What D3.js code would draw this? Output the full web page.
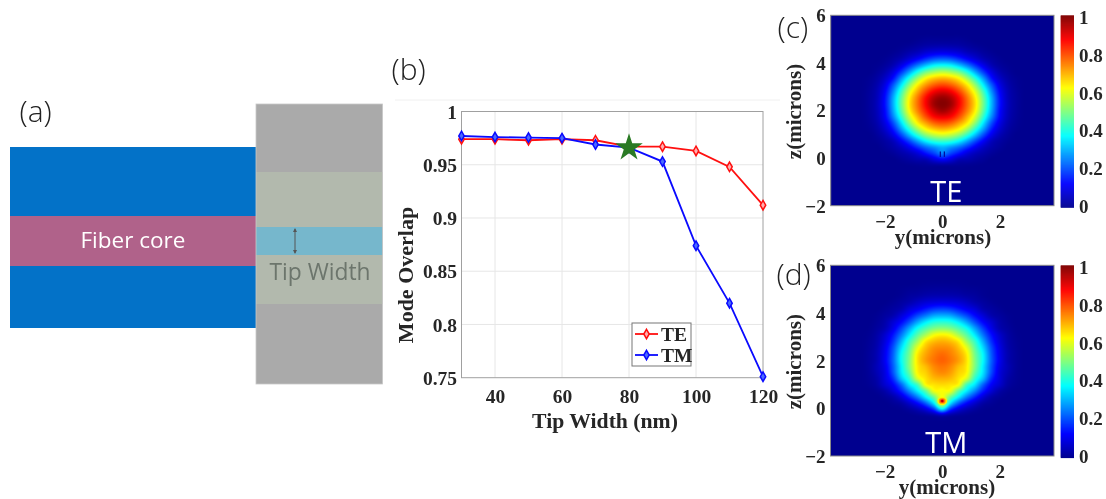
<!DOCTYPE html>
<html><head><meta charset="utf-8">
<script src="https://cdnjs.cloudflare.com/ajax/libs/d3/7.8.5/d3.min.js"></script>
<style>
html,body{margin:0;padding:0;background:#fff;overflow:hidden}
svg{display:block;filter:blur(.55px)}
.sf{font-family:"Liberation Serif",serif;font-weight:700;fill:#262626}
.os{font-family:"Open Sans",sans-serif}
</style></head><body>
<svg id="c" width="1106" height="499"></svg>
<script>
const tipWidths=[30,40,50,60,70,80,90,100,110,120];
const overlapTE=[.974,.974,.973,.974,.973,.967,.967,.963,.948,.912];
const overlapTM=[.977,.976,.9755,.975,.969,.966,.953,.874,.82,.751];
const bestPoint=[80,.966];
const xTicksB=[40,60,80,100,120];
const yTicksB=[.75,.8,.85,.9,.95,1];
const yTickLabelsB=["0.75","0.8","0.85","0.9","0.95","1"];
const heatTicksY=[-2,0,2];
const heatTicksZ=[-2,0,2,4,6];
const barTicks=[0,.2,.4,.6,.8,1];
const barTickLabels=["0","0.2","0.4","0.6","0.8","1"];
const jetStops=[0,.125,.375,.625,.875,1];
const jetColors=["#00008f","#0000ff","#00ffff","#ffff00","#ff0000","#800000"];
// half-field grids: row index maps to z through gridRowZ, column index to |y| through gridColY
const gridRowIdx=[0,12,21], gridRowZ=[5.25,2,-.3];
const gridColIdx=[0,10], gridColY=[0,2.85];
const fieldTE=[
[0,0,0,0],
[.01,.01,.01,.005],
[.037,.035,.03,.02,.01,.004],
[.104,.097,.082,.054,.036,.017,.006],
[.223,.21,.172,.125,.082,.043,.02,.006],
[.386,.372,.32,.25,.172,.10,.043,.016,.004],
[.555,.534,.487,.40,.287,.178,.09,.036,.012],
[.698,.68,.63,.534,.41,.274,.14,.064,.023,.006],
[.805,.783,.727,.64,.514,.358,.21,.095,.034,.009],
[.905,.88,.81,.71,.59,.43,.26,.12,.043,.013],
[.977,.95,.87,.76,.636,.47,.294,.136,.047,.015],
[.995,.97,.88,.77,.65,.48,.30,.14,.05,.015],
[.967,.93,.85,.75,.63,.46,.287,.13,.047,.014],
[.89,.87,.80,.70,.58,.415,.255,.12,.043,.012],
[.80,.78,.72,.64,.51,.35,.20,.095,.034,.009],
[.70,.68,.63,.54,.415,.28,.15,.07,.024,.005],
[.58,.56,.51,.42,.31,.195,.10,.043,.014],
[.43,.415,.365,.285,.195,.115,.05,.022,.006],
[.30,.27,.23,.172,.11,.06,.03,.012],
[.25,.19,.14,.085,.05,.03,.012,.002],
[.12,.09,.045,.036,.022,.01],
[.01,.01,.008,.005,.002],
[0,0,0]];
const fieldTM=[
[.005,.005,.004,.002],
[.018,.017,.015,.01,.008,.003],
[.04,.04,.035,.025,.018,.007,.001],
[.095,.09,.08,.06,.036,.02,.008,.001],
[.185,.175,.145,.11,.08,.037,.02,.008],
[.295,.285,.24,.19,.13,.08,.035,.018,.005],
[.41,.40,.355,.285,.20,.125,.075,.03,.01],
[.51,.495,.45,.385,.285,.185,.10,.04,.016,.002],
[.63,.61,.54,.46,.355,.24,.14,.07,.025,.005],
[.70,.685,.64,.53,.425,.295,.17,.085,.03,.008],
[.74,.73,.685,.60,.465,.34,.20,.10,.035,.01],
[.77,.75,.71,.64,.49,.37,.215,.107,.04,.012],
[.78,.76,.72,.65,.50,.375,.22,.11,.04,.012],
[.76,.74,.69,.64,.50,.36,.21,.10,.045,.012],
[.74,.72,.67,.63,.47,.35,.20,.09,.04,.01],
[.70,.69,.65,.58,.42,.31,.165,.085,.03,.008],
[.66,.65,.62,.44,.35,.22,.12,.07,.022,.005],
[.62,.61,.47,.36,.26,.155,.08,.03,.008],
[.62,.48,.365,.25,.16,.08,.03,.01],
[.60,.36,.22,.13,.07,.026,.01],
[.35,.18,.09,.045,.02,.005],
[.05,.025,.012,.005],
[0,0,0]];
// small-scale features of the fields
const notchY=[-.07,.07], notchZ=[.05,.28];
const tipCenterZ=.31;
const tipRadii=[.17,.12,.085,.05,.03];
const tipValues=[.64,.72,.8,.9,.98];

const svg=d3.select("#c");
const jet=d3.scaleLinear().domain(jetStops).range(jetColors).interpolate(d3.interpolateRgb).clamp(true);
const rowOf=d3.scaleLinear().domain(gridRowZ).range(gridRowIdx);
const colOf=d3.scaleLinear().domain(gridColY).range(gridColIdx);
const rect=(x,y,w,h,f)=>svg.append("rect").attr("x",x).attr("y",y).attr("width",w).attr("height",h).attr("fill",f);
const text=(x,y,s,cls,size,fill,anchor="start")=>{const t=svg.append("text").attr("x",x).attr("y",y).attr("class",cls).attr("font-size",size).attr("text-anchor",anchor).text(s);if(fill)t.style("fill",fill);return t;};

// ---- panel (a)
rect(10,147,246,181,"#0372c8");
rect(10,216,246,50,"#b0628a");
rect(256,104,126.5,280,"#aaaaaa");
rect(256,172,126.5,132,"#b2b9ad");
rect(256,227,126.5,28,"#76b7cc");
svg.append("rect").attr("x",256).attr("y",104).attr("width",126.5).attr("height",280).attr("fill","none").attr("stroke","#c8c8c8").attr("stroke-width",.8);
text(80.5,248,"Fiber core","os",22.5,"#fff");
text(269.5,280,"Tip Width","os",22.8,"#6c756c");
svg.append("line").attr("x1",295).attr("x2",295).attr("y1",229).attr("y2",253).attr("stroke","#555").attr("stroke-width",1);
svg.append("path").attr("d","M295 228l-2 4h4zM295 254l-2 -4h4z").attr("fill","#555");
text(19.5,122,"(a)","os",30,"#222").attr("font-weight",300);
text(391.5,80,"(b)","os",30,"#222").attr("font-weight",300);
text(777.5,38,"(c)","os",30,"#222").attr("font-weight",300);
text(776.5,285,"(d)","os",30,"#222").attr("font-weight",300);

// ---- panel (b)
svg.append("line").attr("x1",395).attr("x2",780).attr("y1",100).attr("y2",100).attr("stroke","#f0f0f0");
const bx=d3.scaleLinear().domain([30,120]).range([461.5,763]);
const by=d3.scaleLinear().domain([.75,1]).range([377.7,111.5]);
const gx=svg.append("g").attr("transform","translate(0,377.7)")
  .call(d3.axisBottom(bx).tickValues(xTicksB).tickSize(0).tickPadding(11));
const gy=svg.append("g").attr("transform","translate(461.5,0)")
  .call(d3.axisLeft(by).tickValues(yTicksB).tickFormat((d,i)=>yTickLabelsB[i]).tickSize(0).tickPadding(4.5));
[gx,gy].forEach(g=>{g.select(".domain").remove();g.selectAll("text").attr("class","sf").attr("font-size",19.5).attr("font-family",null);});
gy.selectAll("text").attr("dy","0.34em");
svg.append("g").selectAll("line").data(xTicksB.slice(0,-1)).join("line")
  .attr("x1",d=>bx(d)).attr("x2",d=>bx(d)).attr("y1",111.5).attr("y2",377.7).attr("stroke","#e6e6e6");
svg.append("g").selectAll("line").data(yTicksB.slice(1,-1)).join("line")
  .attr("y1",d=>by(d)).attr("y2",d=>by(d)).attr("x1",461.5).attr("x2",763).attr("stroke","#e6e6e6");
svg.append("rect").attr("x",461.5).attr("y",111.5).attr("width",301.5).attr("height",266.2).attr("fill","none").attr("stroke","#a0a0a0").attr("stroke-width",1);
text(605,428,"Tip Width (nm)","sf",21.7,null,"middle");
text(0,0,"Mode Overlap","sf",22,null,"middle").attr("transform","translate(413,275) rotate(-90)");
const line=d3.line().x((d,i)=>bx(tipWidths[i])).y(d=>by(d));
const series=[[overlapTE,"#ff1010","#ffb0b0"],[overlapTM,"#0a0aff","#4a6aff"]];
const diamond=d3.symbol().type(d3.symbolDiamond).size(26);
series.forEach(([vals,col,fill])=>{
  svg.append("path").attr("d",line(vals)).attr("fill","none").attr("stroke",col).attr("stroke-width",1.8);
  svg.append("g").selectAll("path").data(vals).join("path").attr("d",diamond)
    .attr("transform",(d,i)=>`translate(${bx(tipWidths[i])},${by(d)})`)
    .attr("fill",fill).attr("stroke",col).attr("stroke-width",1.5);
});
const starPts=d3.range(10).map(i=>{const r=i%2?5.5:14.5,a=i*Math.PI/5;return [r*Math.sin(a),-r*Math.cos(a)];});
svg.append("path").attr("d",d3.line()(starPts)+"Z").attr("fill","#2a7a24")
  .attr("transform",`translate(${bx(bestPoint[0])},${by(bestPoint[1])})`);
svg.append("rect").attr("x",632).attr("y",323).attr("width",59).attr("height",43).attr("fill","#fff").attr("stroke","#777").attr("stroke-width",1);
[["TE",series[0],334],["TM",series[1],355]].forEach(([n,s,y])=>{
  svg.append("line").attr("x1",635).attr("x2",658).attr("y1",y).attr("y2",y).attr("stroke",s[1]).attr("stroke-width",1.8);
  svg.append("path").attr("d",diamond).attr("transform",`translate(646.5,${y})`).attr("fill",s[2]).attr("stroke",s[1]).attr("stroke-width",1.5);
  text(661,y+6.5,n,"sf",19.5);
});

// ---- panels (c), (d)
function sampleField(grid,y,z){
  const iy=colOf(Math.abs(y)), iz=rowOf(z);
  const get=(r,c)=>{c=Math.abs(c);return (grid[r]&&grid[r][c])||0;};
  const cr=(a,b,c,d,t)=>.5*(2*b+(c-a)*t+(2*a-5*b+4*c-d)*t*t+(3*b-a-3*c+d)*t*t*t);
  const r0=Math.floor(iz),c0=Math.floor(iy),tr=iz-r0,tc=iy-c0;
  const rows=[-1,0,1,2].map(dr=>cr(get(r0+dr,c0-1),get(r0+dr,c0),get(r0+dr,c0+1),get(r0+dr,c0+2),tc));
  return Math.max(0,Math.min(1,cr(rows[0],rows[1],rows[2],rows[3],tr)));
}
function heatPanel(o){
  const x=d3.scaleLinear().domain([-3.88,3.88]).range([o.x0,o.x1]);
  const z=d3.scaleLinear().domain([-2,6]).range([o.y1,o.y0]);
  const w=Math.round(o.x1-o.x0),h=Math.round(o.y1-o.y0);
  const cv=document.createElement("canvas");cv.width=w;cv.height=h;
  const ctx=cv.getContext("2d");
  for(let j=0;j<h;j++)for(let i=0;i<w;i++){
    ctx.fillStyle=jet(sampleField(o.field,x.invert(o.x0+i+.5),z.invert(o.y0+j+.5)));
    ctx.fillRect(i,j,1,1);
  }
  svg.append("image").attr("x",o.x0).attr("y",o.y0).attr("width",o.x1-o.x0).attr("height",o.y1-o.y0)
    .attr("preserveAspectRatio","none").attr("href",cv.toDataURL());
  if(o.notch) svg.append("g").selectAll("line").data(notchY).join("line")
    .attr("x1",d=>x(d)).attr("x2",d=>x(d)).attr("y1",z(notchZ[0])).attr("y2",z(notchZ[1]))
    .attr("stroke","#0010a0").attr("stroke-width",1.3);
  if(o.tip) svg.append("g").selectAll("ellipse").data(tipRadii).join("ellipse")
    .attr("cx",x(0)).attr("cy",z(tipCenterZ)).attr("rx",d=>x(d)-x(0)).attr("ry",d=>z(0)-z(d))
    .attr("fill",(d,i)=>jet(tipValues[i]));
  svg.append("rect").attr("x",o.x0).attr("y",o.y0).attr("width",o.x1-o.x0).attr("height",o.y1-o.y0)
    .attr("fill","none").attr("stroke","#8a8a8a").attr("stroke-width",1);
  const gX=svg.append("g").attr("transform",`translate(0,${o.y1})`)
    .call(d3.axisBottom(x).tickValues(heatTicksY).tickSize(0).tickPadding(o.tickPad).tickFormat(d=>d<0?"\u2212"+(-d):d));
  const gZ=svg.append("g").attr("transform",`translate(${o.x0},0)`)
    .call(d3.axisLeft(z).tickValues(heatTicksZ).tickSize(0).tickPadding(5).tickFormat(d=>d<0?"\u2212"+(-d):d));
  [gX,gZ].forEach(g=>{g.select(".domain").remove();g.selectAll("text").attr("class","sf").attr("font-size",19).attr("font-family",null);});
  gZ.selectAll("text").attr("dy","0.34em");
  text(o.labelX,o.y1+o.labelDy,"y(microns)","sf",21,null,"middle");
  text(0,0,"z(microns)","sf",21,null,"middle").attr("transform",`translate(${o.zLabelX},${(o.y0+o.y1)/2+o.zLabelDy}) rotate(-90)`);
  text(x(0)+4,o.y1-3.5,o.name,"os",29,"#fff","middle");
  // colour bar
  const bw=o.barX1-o.barX0;
  const b=d3.scaleLinear().domain([0,1]).range([o.y1+1.5,o.y0]);
  const cb=svg.append("g");
  cb.selectAll("rect").data(d3.range(0,192)).join("rect")
    .attr("x",o.barX0).attr("width",bw)
    .attr("y",d=>b((d+1)/192)).attr("height",d=>b(d/192)-b((d+1)/192)+.6)
    .attr("fill",d=>jet((d+.5)/192));
  const gB=svg.append("g").attr("transform",`translate(${o.barX1},0)`)
    .call(d3.axisRight(d3.scaleLinear().domain([0,1]).range([o.y1,o.y0+2])).tickValues(barTicks).tickFormat((d,i)=>barTickLabels[i]).tickSize(0).tickPadding(5));
  gB.select(".domain").remove();
  gB.selectAll("text").attr("class","sf").attr("font-size",19).attr("font-family",null).attr("dy","0.34em");
}
heatPanel({field:fieldTE,name:"TE",notch:true,x0:830.7,x1:1054,y0:15.3,y1:205.7,barX0:1060.7,barX1:1074,labelX:943,labelDy:38.5,zLabelX:801,zLabelDy:1,tickPad:9});
heatPanel({field:fieldTM,name:"TM",tip:true,x0:830.5,x1:1054,y0:265.3,y1:456,barX0:1060.7,barX1:1074,labelX:947,labelDy:38,zLabelX:801,zLabelDy:1,tickPad:9});
</script></body></html>
